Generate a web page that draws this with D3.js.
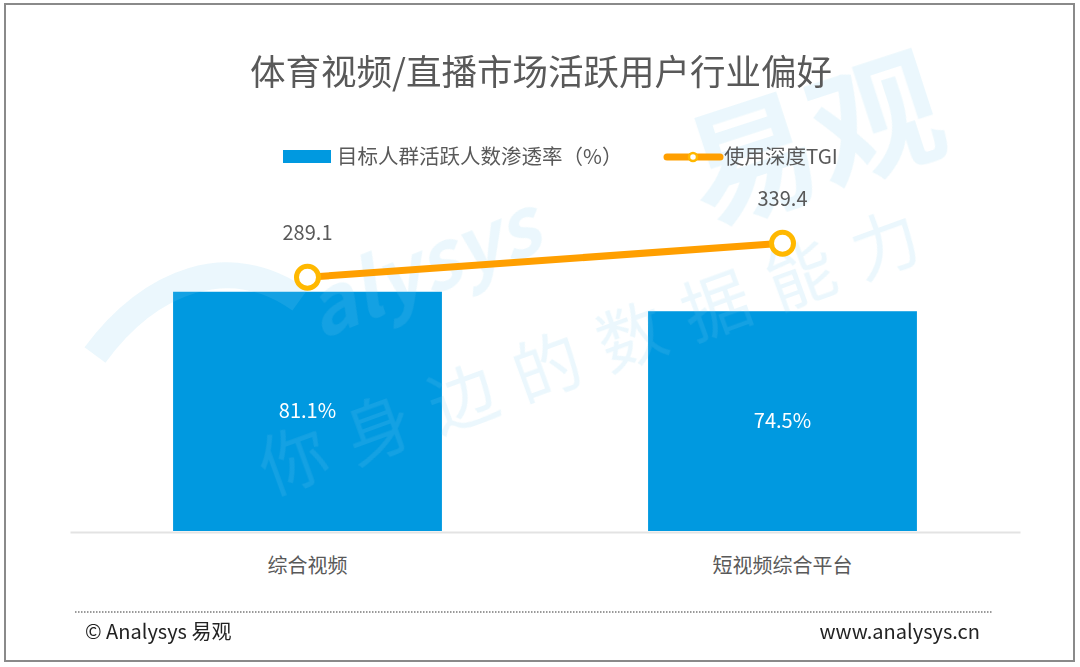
<!DOCTYPE html>
<html><head><meta charset="utf-8">
<script src="https://cdn.jsdelivr.net/npm/d3@7/dist/d3.min.js"></script>
<style>
html,body{margin:0;padding:0;background:#fff;}
svg{display:block;font-family:"Noto Sans CJK SC","Noto Sans",sans-serif;}
</style></head>
<body>
<svg id="chart" width="1080" height="667"></svg>
<script>
const title = "体育视频/直播市场活跃用户行业偏好";
const categories = ["综合视频", "短视频综合平台"];
const penetration = [81.1, 74.5];          // 目标人群活跃人数渗透率（%）
const tgi = [289.1, 339.4];                 // 使用深度TGI
const seriesNames = ["目标人群活跃人数渗透率（%）", "使用深度TGI"];
const footerLeft = "© Analysys 易观";
const footerRight = "www.analysys.cn";

const svg = d3.select("#chart");
const plot = {left: 70, right: 1020, bottom: 531};

// frame
svg.append("rect").attr("x", 5).attr("y", 4).attr("width", 1069).attr("height", 657)
  .attr("fill", "none").attr("stroke", "#8a8a8a").attr("stroke-width", 2);

// scales
const x = d3.scaleBand().domain(categories).range([plot.left, plot.right])
  .paddingInner(0.434).paddingOuter(0.217);
const y = d3.scaleLinear().domain([0, 100]).range([plot.bottom, plot.bottom - 295]);
const y2 = d3.scaleLinear().domain([0, 400]).range([472.7, 472.7 - 270.4]);

// bars
svg.append("g").selectAll("rect").data(categories).join("rect")
  .attr("x", d => x(d)).attr("width", x.bandwidth())
  .attr("y", (d, i) => y(penetration[i]))
  .attr("height", (d, i) => y(0) - y(penetration[i]))
  .attr("fill", "#0099e0");

// watermark (semi-transparent, over the bars)
const wm = svg.append("g").attr("fill", "#7fcdee").attr("opacity", 0.16)
  .style("font-family", "'Noto Sans CJK SC',sans-serif");
wm.append("text").attr("transform", "translate(320,340) rotate(-22)")
  .attr("font-size", 80).attr("font-weight", 700).attr("font-style","italic").text("alysys");
wm.append("text").attr("transform", "translate(705,225) rotate(-18)")
  .attr("font-size", 130).attr("font-weight", 700).text("易观");
wm.append("text").attr("transform", "translate(270,495) rotate(-20)")
  .attr("font-size", 68).attr("letter-spacing", 22).text("你身边的数据能力");
wm.append("path").attr("d", "M95,355 C150,280 230,250 300,300").attr("fill","none")
  .attr("stroke", "#7fcdee").attr("stroke-width", 26);

// title
svg.append("text").attr("x", 541).attr("y", 85).attr("text-anchor", "middle")
  .attr("font-size", 35.5).attr("fill", "#595959").text(title);

// axis line
const xAxis = svg.append("g").attr("transform", `translate(0,${plot.bottom + 1})`)
  .call(d3.axisBottom(x).tickSize(0).tickPadding(27));
xAxis.select(".domain").attr("stroke", "#e3e3e3").attr("stroke-width", 2);
xAxis.selectAll(".tick text").attr("font-size", 20).attr("fill", "#595959")
  .style("font-family", "'Noto Sans CJK SC',sans-serif");

svg.append("g").selectAll("text").data(categories).join("text")
  .attr("x", d => x(d) + x.bandwidth() / 2)
  .attr("y", (d, i) => (y(penetration[i]) + y(0)) / 2 + 7)
  .attr("text-anchor", "middle").attr("font-size", 20).attr("fill", "#fff")
  .text((d, i) => penetration[i].toFixed(1) + "%");

// line
const pts = categories.map((c, i) => [x(c) + x.bandwidth() / 2, y2(tgi[i])]);
svg.append("path").attr("d", d3.line()(pts)).attr("fill", "none")
  .attr("stroke", "#ff9f00").attr("stroke-width", 7);
svg.append("g").selectAll("circle").data(pts).join("circle")
  .attr("cx", d => d[0]).attr("cy", d => d[1]).attr("r", 11)
  .attr("fill", "#fff").attr("stroke", "#ffb800").attr("stroke-width", 5);
svg.append("g").selectAll("text").data(pts).join("text")
  .attr("x", d => d[0]).attr("y", d => d[1] - 37)
  .attr("text-anchor", "middle").attr("font-size", 20).attr("fill", "#595959")
  .text((d, i) => tgi[i].toFixed(1));

// legend
const lg = svg.append("g");
lg.append("rect").attr("x", 283).attr("y", 150).attr("width", 48).attr("height", 13).attr("fill", "#0099e0");
lg.append("text").attr("x", 337).attr("y", 164).attr("font-size", 20.5).attr("fill", "#595959").text(seriesNames[0]);
lg.append("line").attr("x1", 667).attr("x2", 720).attr("y1", 157).attr("y2", 157)
  .attr("stroke", "#ff9f00").attr("stroke-width", 7).attr("stroke-linecap", "round");
lg.append("circle").attr("cx", 693).attr("cy", 157).attr("r", 4)
  .attr("fill", "#fff").attr("stroke", "#ffb800").attr("stroke-width", 2.5);
lg.append("text").attr("x", 724).attr("y", 164).attr("font-size", 20.5).attr("fill", "#595959").text(seriesNames[1]);

// footer
svg.append("line").attr("x1", 75).attr("x2", 992).attr("y1", 612).attr("y2", 612)
  .attr("stroke", "#9a9a9a").attr("stroke-width", 2).attr("stroke-dasharray", "1.5,1.5");
svg.append("text").attr("x", 85).attr("y", 639).attr("font-size", 20).attr("fill", "#222").text(footerLeft);
svg.append("text").attr("x", 980).attr("y", 639).attr("text-anchor", "end").attr("font-size", 20).attr("fill", "#222").text(footerRight);
</script>
</body></html>
